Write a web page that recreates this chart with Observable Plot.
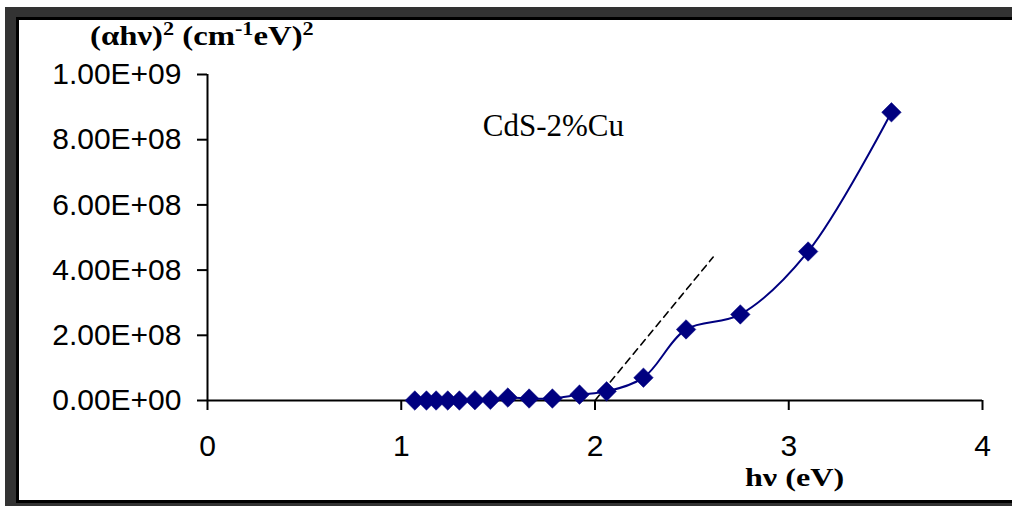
<!DOCTYPE html>
<html>
<head>
<meta charset="utf-8">
<script src="https://cdn.jsdelivr.net/npm/d3@7"></script>
<script src="https://cdn.jsdelivr.net/npm/@observablehq/plot@0.6"></script>
<style>
  html, body { margin: 0; padding: 0; background: #fff; }
  #wrap { position: relative; width: 1012px; height: 506px; overflow: hidden; }
  #wrap svg { position: absolute; left: 0; top: 0; }
  .fr { position: absolute; }
</style>
</head>
<body>
<div id="wrap"></div>
<script>
// Photon energy hν (eV)
const hv = [1.07, 1.13, 1.18, 1.24, 1.30, 1.38, 1.46, 1.55, 1.66, 1.78, 1.92, 2.06, 2.25, 2.47, 2.75, 3.10, 3.53];
// (αhν)^2 (cm^-1 eV)^2
const alphaHv2 = [0, 0, 0, 0, 0, 1e6, 2e6, 9e6, 6e6, 6e6, 1.8e7, 2.8e7, 7.0e7, 2.18e8, 2.64e8, 4.57e8, 8.84e8];
// Tangent (band-gap extrapolation) line end points
const tangentX = [2.0, 2.61];
const tangentY = [0, 4.4e8];
// Tick values
const xTicks = [0, 1, 2, 3, 4];
const yTicks = [0, 2e8, 4e8, 6e8, 8e8, 1e9];
const seriesLabel = "CdS-2%Cu";

const data = hv.map((x, i) => ({x, y: alphaHv2[i]}));
const tangent = tangentX.map((x, i) => ({x, y: tangentY[i]}));

function sci(v) {
  if (v === 0) return "0.00E+00";
  const e = Math.floor(Math.log10(Math.abs(v)) + 1e-9);
  const m = v / Math.pow(10, e);
  return m.toFixed(2) + "E" + (e < 0 ? "-" : "+") + String(Math.abs(e)).padStart(2, "0");
}

const navy = "#000080";
const plot = Plot.plot({
  width: 1012,
  height: 506,
  marginLeft: 207,
  marginRight: 30,
  marginTop: 74,
  marginBottom: 106,
  style: {background: "transparent", overflow: "visible", fontFamily: "'Liberation Sans', Arial, sans-serif"},
  x: {domain: [0, 4], ticks: xTicks, label: null},
  y: {domain: [0, 1e9], ticks: yTicks, label: null, tickFormat: sci},
  marks: [
    Plot.axisX({ticks: xTicks, tickSize: 10, tickPadding: 24, fontSize: 30, stroke: "#000", strokeWidth: 2, strokeOpacity: 1, fill: "#000", label: null, tickFormat: d => String(d)}),
    Plot.axisY({ticks: yTicks, tickSize: 10, tickPadding: 16, fontSize: 30, stroke: "#000", strokeWidth: 2, strokeOpacity: 1, fill: "#000", label: null, tickFormat: sci}),
    Plot.ruleY([0], {stroke: "#000", strokeWidth: 2}),
    Plot.ruleX([0], {stroke: "#000", strokeWidth: 2}),
    Plot.line(tangent, {x: "x", y: "y", stroke: "#000", strokeWidth: 1.6, strokeDasharray: "7,5"}),
    Plot.line(data, {x: "x", y: "y", stroke: navy, strokeWidth: 2, curve: "catmull-rom"}),
    Plot.dot(data, {x: "x", y: "y", symbol: "diamond2", r: 8.8, fill: navy, stroke: navy, strokeWidth: 0.5}),
    Plot.text([seriesLabel], {x: 1.785, y: 8.1e8, text: d => d, fontSize: 31, fontFamily: "'Liberation Serif', 'Times New Roman', serif", lineAnchor: "bottom", textAnchor: "middle", fill: "#000"})
  ]
});

const wrap = document.getElementById("wrap");
wrap.appendChild(plot);

function stretchText(t, s) {
  const x = +t.getAttribute("x") || 0;
  const tr = t.getAttribute("transform") || "";
  t.setAttribute("transform", `${tr} translate(${x},0) scale(${s},1) translate(${-x},0)`);
}

// Axis titles with superscripts
const svg = d3.select(plot);
const serif = "'Liberation Serif', 'Times New Roman', serif";
const yt = svg.append("text")
  .attr("x", 90).attr("y", 45).attr("text-anchor", "start")
  .attr("font-family", serif).attr("font-weight", "bold").attr("font-size", 28).attr("fill", "#000");
yt.append("tspan").text("(\u03B1h\u03BD)");
yt.append("tspan").attr("dy", -10).attr("font-size", 19).text("2");
yt.append("tspan").attr("dy", 10).text(" (cm");
yt.append("tspan").attr("dy", -10).attr("font-size", 19).text("-1");
yt.append("tspan").attr("dy", 10).text("eV)");
yt.append("tspan").attr("dy", -10).attr("font-size", 19).text("2");
stretchText(yt.node(), 1.17);

const xt = svg.append("text")
  .attr("x", 745).attr("y", 486).attr("text-anchor", "start")
  .attr("font-family", serif).attr("font-weight", "bold").attr("font-size", 25.5).attr("fill", "#000")
  .text("h\u03BD (eV)");
stretchText(xt.node(), 1.26);

// Outer frame
const frames = [
  {l: 5, t: 7, w: 1010, h: 10, c: "#333"},
  {l: 5, t: 7, w: 11, h: 499, c: "#333"},
  {l: 16, t: 17, w: 1000, h: 3, c: "#000"},
  {l: 16, t: 17, w: 3, h: 486, c: "#000"},
  {l: 16, t: 500, w: 1000, h: 3, c: "#000"},
  {l: 5, t: 503, w: 1010, h: 3, c: "#333"}
];
for (const f of frames) {
  const d = document.createElement("div");
  d.className = "fr";
  d.style.left = f.l + "px"; d.style.top = f.t + "px";
  d.style.width = f.w + "px"; d.style.height = f.h + "px";
  d.style.background = f.c;
  wrap.appendChild(d);
}
</script>
</body>
</html>
